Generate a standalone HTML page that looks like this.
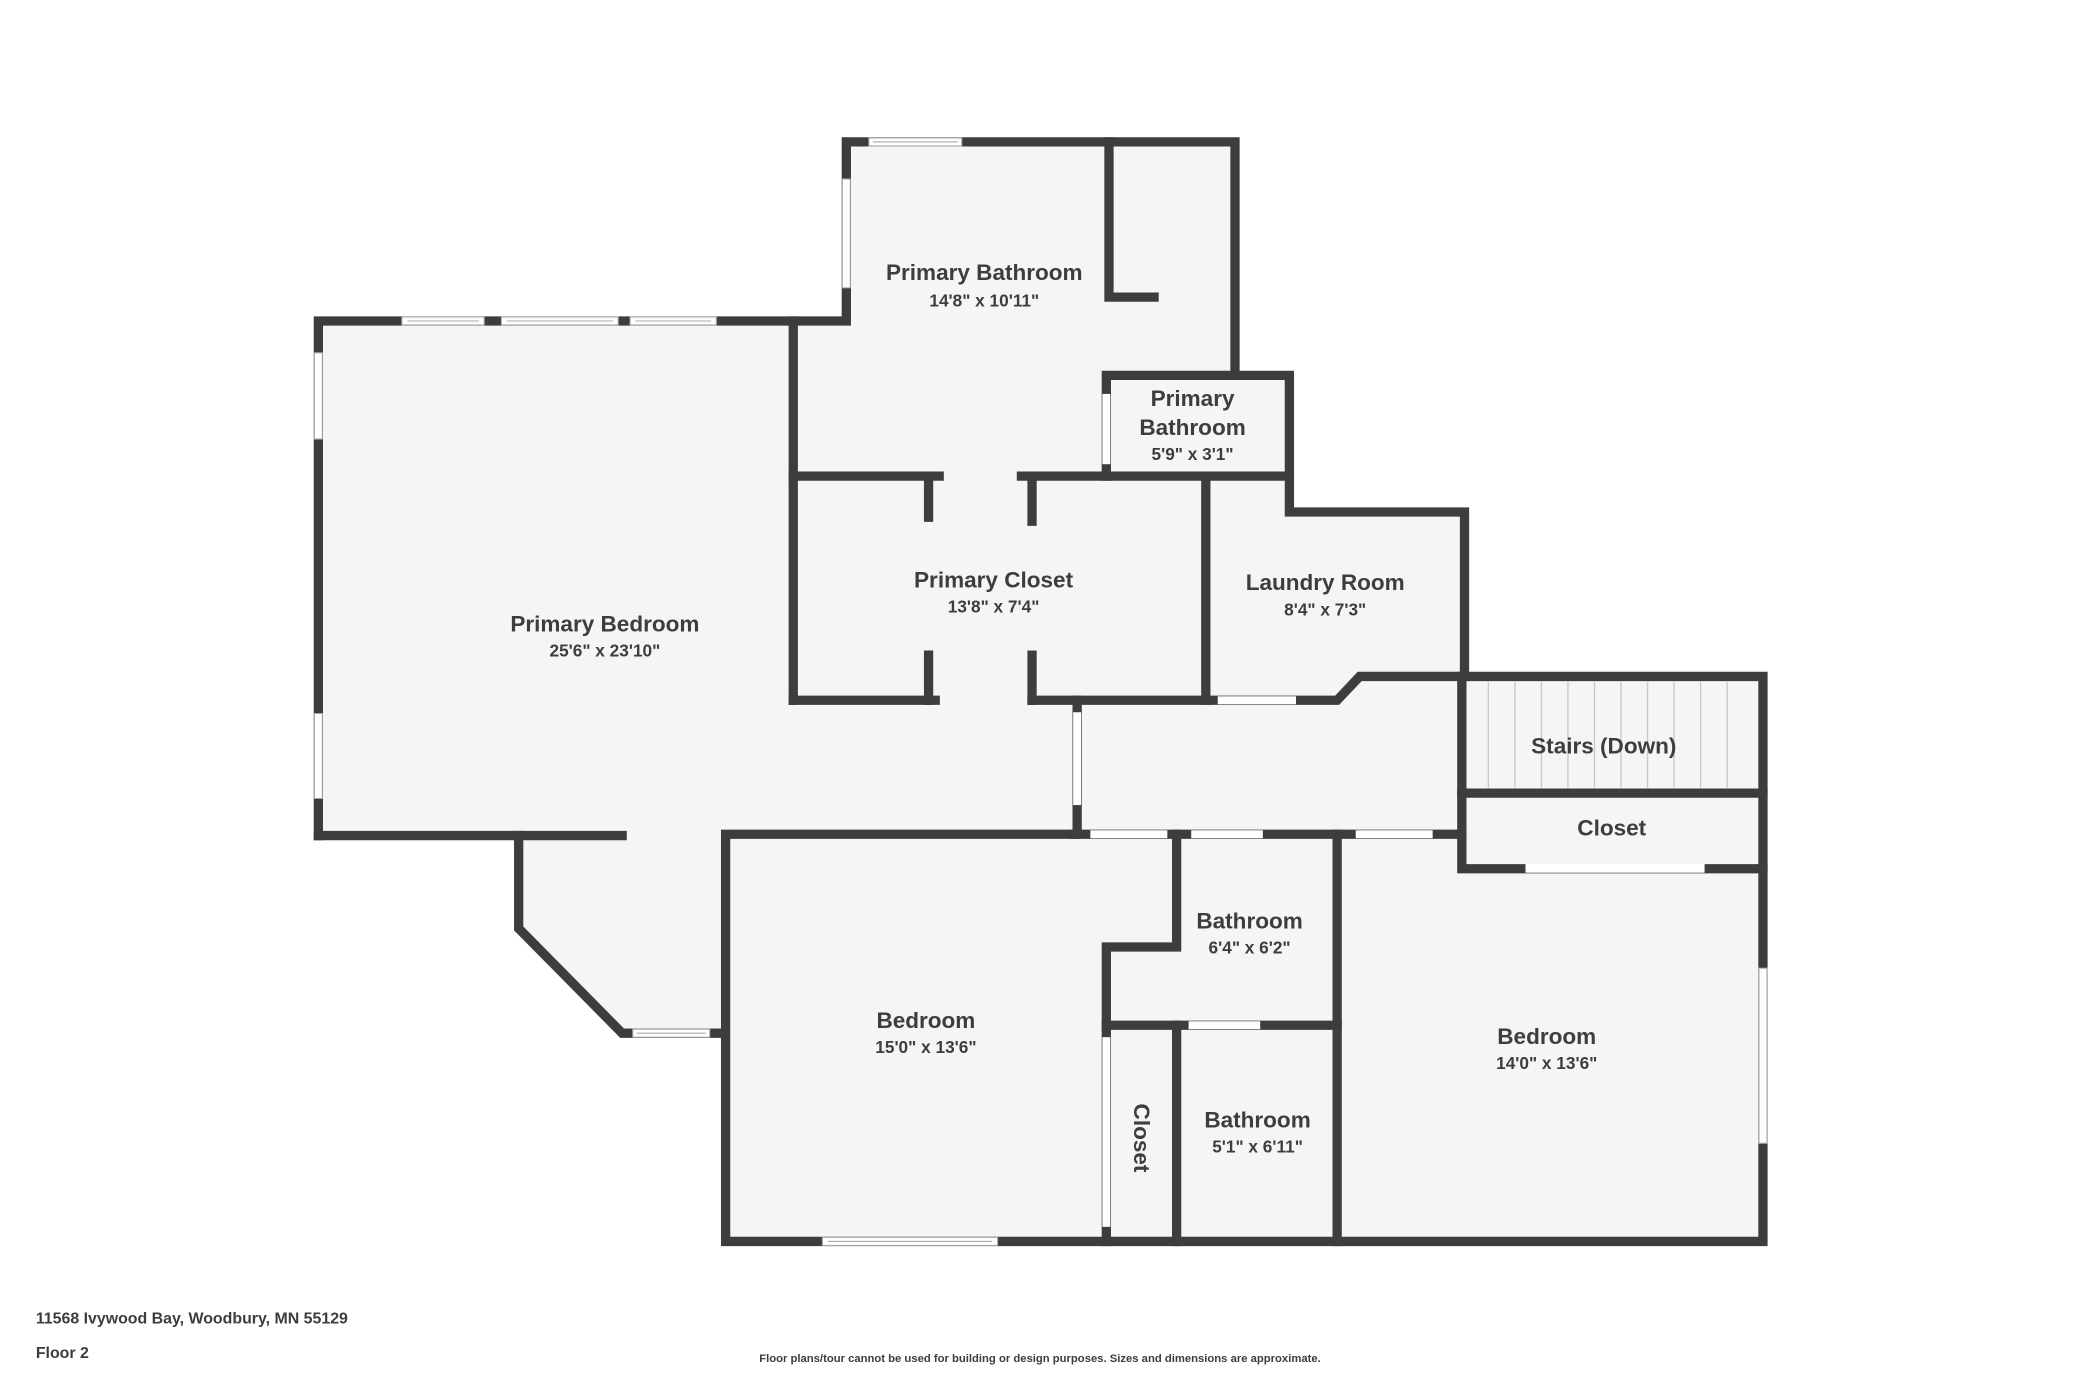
<!DOCTYPE html>
<html><head><meta charset="utf-8"><style>
html,body{margin:0;padding:0;background:#fff;width:2080px;height:1386px;overflow:hidden}
svg{display:block}
text{font-family:"Liberation Sans",sans-serif;fill:#3d3d3d;font-weight:bold;text-anchor:middle}
</style></head><body>
<svg width="2080" height="1386" viewBox="0 0 1568 1045" preserveAspectRatio="none" xmlns="http://www.w3.org/2000/svg">
<polygon points="240,242 638,242 638,107 934,107 934,283 972,283 972,386 1104,386 1104,510 1329,510 1329,936 547,936 547,779 469,779 391,700 391,630 240,630" fill="#f5f5f5"/>
<g stroke="#c8c8c8" stroke-width="1">
<line x1="1122" y1="514" x2="1122" y2="594"/><line x1="1142" y1="514" x2="1142" y2="594"/><line x1="1162" y1="514" x2="1162" y2="594"/><line x1="1182" y1="514" x2="1182" y2="594"/><line x1="1202" y1="514" x2="1202" y2="594"/><line x1="1222" y1="514" x2="1222" y2="594"/><line x1="1242" y1="514" x2="1242" y2="594"/><line x1="1262" y1="514" x2="1262" y2="594"/><line x1="1282" y1="514" x2="1282" y2="594"/><line x1="1302" y1="514" x2="1302" y2="594"/>
</g>
<g stroke="#3d3d3d" stroke-width="7" fill="none" stroke-linecap="square" stroke-linejoin="miter">
<polyline points="240,630 240,242 638,242 638,107 931,107 931,283"/>
<polyline points="836,107 836,224 870,224"/>
<polyline points="240,630 469,630"/>
<polyline points="391,630 391,700 469,779 545,779"/>
<line x1="598" y1="242" x2="598" y2="528"/>
<polyline points="598,359 708,359"/><polyline points="770,359 972,359"/>
<polyline points="598,528 705,528"/><polyline points="778,528 1008,528 1025,510 1329,510 1329,936 547,936 547,629 810,629"/>
<line x1="700" y1="359" x2="700" y2="390"/><line x1="700" y1="494" x2="700" y2="528"/>
<line x1="778" y1="362" x2="778" y2="393"/><line x1="778" y1="494" x2="778" y2="528"/>
<polyline points="834,359 834,283 972,283 972,386 1104,386 1104,510"/>
<line x1="909" y1="359" x2="909" y2="528"/>
<line x1="812" y1="528" x2="812" y2="629"/>
<line x1="810" y1="629" x2="1102" y2="629"/>
<polyline points="1102,510 1102,655 1329,655"/>
<line x1="1102" y1="598" x2="1329" y2="598"/>
<polyline points="887,629 887,714 834,714 834,936"/>
<line x1="834" y1="773" x2="1008" y2="773"/>
<line x1="887" y1="773" x2="887" y2="936"/>
<line x1="1008" y1="629" x2="1008" y2="936"/>
</g>
<g fill="#fff" stroke="#aaa" stroke-width="0.8">
<rect x="655" y="104" width="70" height="6"/><line x1="658" y1="107" x2="722" y2="107"/>
<rect x="635" y="135" width="6" height="82"/>
<rect x="303" y="239" width="62" height="6"/><rect x="378" y="239" width="88" height="6"/><rect x="475" y="239" width="65" height="6"/>
<line x1="307" y1="242" x2="361" y2="242"/><line x1="382" y1="242" x2="462" y2="242"/><line x1="479" y1="242" x2="536" y2="242"/>
<rect x="237" y="266" width="6" height="65"/><rect x="237" y="538" width="6" height="64"/>
<rect x="477" y="776" width="58" height="6"/><line x1="480" y1="779" x2="532" y2="779"/>
<rect x="620" y="933" width="132" height="6"/><line x1="624" y1="936" x2="748" y2="936"/>
<rect x="1326" y="730" width="6" height="132"/>
<rect x="831" y="297" width="6" height="53" stroke="none"/>
<rect x="918" y="525" width="59" height="6" stroke="none"/>
<rect x="809" y="537" width="6" height="70" stroke="none"/>
<rect x="822" y="626" width="58" height="6" stroke="none"/>
<rect x="898" y="626" width="54" height="6" stroke="none"/>
<rect x="1022" y="626" width="58" height="6" stroke="none"/>
<rect x="1150" y="651" width="135" height="7" stroke="none"/>
<rect x="896" y="770" width="54" height="6" stroke="none"/>
<rect x="831" y="782" width="6" height="143" stroke="none"/>
</g>
<text x="742" y="211" font-size="17">Primary Bathroom</text><text x="742" y="231" font-size="13">14'8" x 10'11"</text>
<text x="899" y="306" font-size="17">Primary</text><text x="899" y="328" font-size="17">Bathroom</text><text x="899" y="347" font-size="13">5'9" x 3'1"</text>
<text x="749" y="443" font-size="17">Primary Closet</text><text x="749" y="462" font-size="13">13'8" x 7'4"</text>
<text x="999" y="445" font-size="17">Laundry Room</text><text x="999" y="464" font-size="13">8'4" x 7'3"</text>
<text x="456" y="476" font-size="17">Primary Bedroom</text><text x="456" y="495" font-size="13">25'6" x 23'10"</text>
<text x="1209" y="568" font-size="17">Stairs (Down)</text>
<text x="1215" y="630" font-size="17">Closet</text>
<text x="942" y="700" font-size="17">Bathroom</text><text x="942" y="719" font-size="13">6'4" x 6'2"</text>
<text x="698" y="775" font-size="17">Bedroom</text><text x="698" y="794" font-size="13">15'0" x 13'6"</text>
<text x="1166" y="787" font-size="17">Bedroom</text><text x="1166" y="806" font-size="13">14'0" x 13'6"</text>
<text x="948" y="850" font-size="17">Bathroom</text><text x="948" y="869" font-size="13">5'1" x 6'11"</text>
<text x="0" y="0" font-size="17" transform="translate(855,858) rotate(90)">Closet</text>
<text x="27" y="998" font-size="12" style="text-anchor:start">11568 Ivywood Bay, Woodbury, MN 55129</text>
<text x="27" y="1024" font-size="12" style="text-anchor:start">Floor 2</text>
<text x="784" y="1027" font-size="8.5">Floor plans/tour cannot be used for building or design purposes. Sizes and dimensions are approximate.</text>
</svg>
</body></html>
